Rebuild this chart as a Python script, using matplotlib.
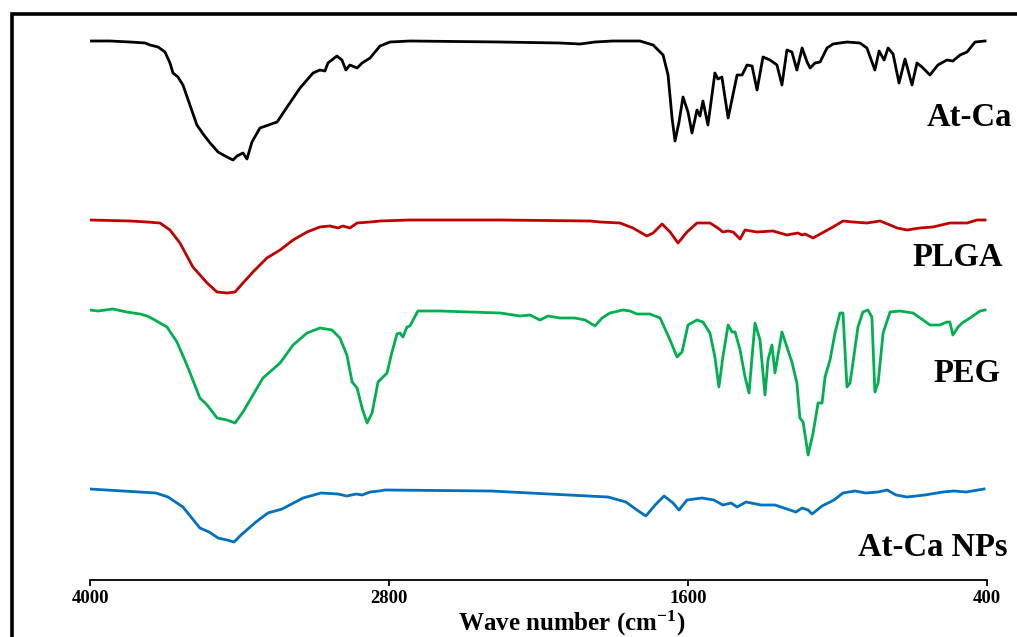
import matplotlib
matplotlib.use('Agg')
import matplotlib.pyplot as plt
from matplotlib.patches import Rectangle

# FTIR spectra: wavenumber (cm-1) and transmittance (offset, a.u.)
atca_wn = [3996, 3920, 3839, 3779, 3759, 3727, 3699, 3679, 3667, 3647, 3627, 3599, 3571, 3546,
           3518, 3486, 3458, 3426, 3410, 3386, 3370, 3350, 3318, 3249, 3209, 3157, 3105, 3077,
           3057, 3045, 3009, 2989, 2973, 2957, 2928, 2908, 2876, 2836, 2796, 2716, 2354, 2114,
           2033, 1973, 1901, 1793, 1740, 1700, 1680, 1664, 1652, 1636, 1620, 1600, 1584, 1564,
           1552, 1540, 1520, 1492, 1480, 1464, 1439, 1403, 1383, 1363, 1343, 1323, 1299, 1271,
           1243, 1223, 1203, 1183, 1163, 1142, 1122, 1110, 1090, 1070, 1042, 1018, 962, 910,
           882, 850, 833, 813, 797, 777, 753, 729, 701, 681, 661, 629, 597, 561, 537, 508,
           480, 448, 408]
atca_t = [559, 559, 558, 557, 555, 553, 548, 537, 527, 523, 515, 495, 475, 466,
          457, 448, 444, 440, 444, 447, 441, 458, 472, 478, 493, 512, 527, 530,
          529, 537, 544, 540, 530, 535, 532, 537, 542, 554, 558, 559, 558, 557,
          556, 558, 559, 559, 555, 545, 525, 482, 459, 478, 503, 488, 467, 490,
          484, 499, 475, 527, 521, 523, 482, 525, 525, 535, 534, 510, 543, 540,
          535, 515, 550, 548, 530, 552, 538, 532, 537, 538, 552, 556, 558, 557,
          552, 530, 549, 540, 552, 546, 517, 541, 515, 537, 533, 525, 535, 540, 539, 545,
          548, 558, 559]

plga_wn = [4000, 3839, 3771, 3719, 3679, 3639, 3587, 3530, 3490, 3450, 3418, 3386, 3346, 3290,
           3237, 3185, 3129, 3077, 3037, 3005, 2985, 2957, 2928, 2876, 2836, 2716, 2354, 1993,
           1953, 1873, 1821, 1765, 1740, 1704, 1672, 1640, 1604, 1564, 1512, 1480, 1460, 1439,
           1419, 1391, 1371, 1323, 1259, 1203, 1159, 1142, 1130, 1098, 1062, 1018, 978, 938,
           882, 829, 789, 761, 721, 669, 617, 549, 480, 440, 408]
plga_t = [380, 379, 378, 377, 370, 357, 333, 317, 308, 307, 308, 317, 328, 342,
          350, 360, 368, 373, 374, 372, 374, 372, 377, 378, 379, 380, 380, 379,
          378, 377, 372, 364, 367, 376, 368, 357, 368, 377, 377, 372, 368, 369,
          368, 361, 370, 368, 369, 365, 367, 365, 366, 362, 367, 373, 379, 378,
          377, 379, 375, 372, 370, 372, 373, 377, 377, 380, 380]

peg_wn = [4000, 3968, 3908, 3852, 3799, 3771, 3747, 3691, 3651, 3611, 3559, 3530, 3490, 3450,
          3418, 3386, 3346, 3306, 3237, 3185, 3129, 3077, 3029, 2997, 2969, 2948, 2928, 2908,
          2888, 2868, 2844, 2808, 2788, 2768, 2756, 2744, 2728, 2716, 2684, 2595, 2475, 2354,
          2274, 2234, 2194, 2162, 2114, 2054, 2013, 1973, 1945, 1913, 1861, 1833, 1805, 1753,
          1712, 1672, 1644, 1624, 1600, 1564, 1540, 1512, 1492, 1476, 1460, 1439, 1423, 1411,
          1391, 1371, 1355, 1343, 1331, 1311, 1291, 1279, 1263, 1251, 1223, 1203, 1183, 1163,
          1151, 1138, 1118, 1098, 1078, 1062, 1050, 1030, 1010, 990, 978, 962, 950, 938,
          918, 898, 878, 862, 850, 837, 817, 789, 749, 697, 657, 629, 589, 561, 549, 537,
          516, 500, 468, 428, 408]
peg_t = [290, 289, 291, 288, 286, 284, 281, 273, 258, 235, 202, 195, 182, 180,
         177, 188, 205, 222, 237, 255, 267, 272, 270, 262, 245, 218, 212, 192,
         177, 187, 218, 227, 248, 266, 267, 263, 273, 274, 289, 289, 288, 287,
         284, 285, 280, 284, 282, 282, 280, 274, 282, 287, 290, 289, 286, 286,
         282, 260, 243, 248, 275, 280, 278, 267, 243, 213, 243, 275, 268, 268,
         250, 223, 207, 243, 277, 260, 205, 240, 255, 227, 268, 253, 238, 217,
         182, 178, 145, 167, 197, 197, 223, 240, 267, 287, 287, 213, 217, 237,
         273, 288, 290, 283, 208, 217, 267, 288, 289, 287, 280, 275, 275, 278, 278, 265,
         273, 277, 282, 289, 290]

nps_wn = [4000, 3803, 3735, 3687, 3627, 3559, 3522, 3486, 3450, 3422, 3394, 3334, 3286, 3229,
          3145, 3073, 3005, 2969, 2932, 2908, 2876, 2840, 2816, 2391, 2158, 1921, 1849, 1805,
          1769, 1732, 1696, 1660, 1636, 1604, 1544, 1496, 1460, 1427, 1403, 1367, 1307, 1251,
          1215, 1167, 1142, 1118, 1102, 1062, 1014, 978, 930, 886, 837, 801, 765, 721,
          649, 577, 533, 484, 436, 412]
nps_t = [111, 108, 107, 103, 93, 72, 68, 62, 60, 58, 65, 78, 87, 91,
         102, 107, 106, 104, 106, 105, 108, 109, 110, 109, 106, 103, 98, 90,
         84, 95, 104, 97, 90, 100, 102, 100, 95, 97, 93, 98, 95, 95,
         92, 88, 92, 90, 86, 94, 100, 107, 109, 107, 108, 110, 105, 103,
         105, 108, 109, 108, 110, 111]

names = ['At-Ca', 'PLGA', 'PEG', 'At-Ca NPs']
colors = ['black', '#c00000', '#00b050', '#0070c0']
xticks = [4000, 2800, 1600, 400]

serif = ['Liberation Serif', 'DejaVu Serif']
plt.rcParams['mathtext.fontset'] = 'custom'
plt.rcParams['mathtext.rm'] = 'Liberation Serif:bold'
plt.rcParams['mathtext.default'] = 'rm'

fig = plt.figure(figsize=(10.17, 6.37), dpi=100)
ax = fig.add_axes([90 / 1017, 57 / 637, 897 / 1017, 560 / 637])

series = [(atca_wn, atca_t), (plga_wn, plga_t), (peg_wn, peg_t), (nps_wn, nps_t)]
for (wn, t), c in zip(series, colors):
    ax.plot(wn, t, color=c, lw=2.0, solid_joinstyle='round')

ax.set_xlim(4000, 400)
ax.set_ylim(20, 580)
ax.set_xticks(xticks)
ax.set_xticklabels([str(v) for v in xticks], fontfamily=serif, fontweight='bold', fontsize=13.5)
ax.set_yticks([])
for s in ['left', 'right', 'top']:
    ax.spines[s].set_visible(False)
ax.spines['bottom'].set_linewidth(1.3)
ax.tick_params(axis='x', direction='out', length=4, width=1.3, pad=3)

fig.text(572 / 1017, (637 - 623) / 637, 'Wave number (cm$^{-1}$)', ha='center', va='center',
         fontfamily=serif, fontweight='bold', fontsize=18)

# curve labels on the right
label_pos = [(1012, 117), (1003, 258), (1000, 373), (1008, 547)]
for name, (px, py) in zip(names, label_pos):
    fig.text(px / 1017, (637 - py) / 637, name, ha='right', va='center',
             fontfamily=serif, fontweight='bold', fontsize=23.5)

# outer frame
fig.patches.append(Rectangle((12 / 1017, -0.1), 1.2, (637 - 13.5) / 637 + 0.1,
                             transform=fig.transFigure, fill=False, lw=2.6,
                             edgecolor='black'))

fig.savefig('out.png', dpi=100)
